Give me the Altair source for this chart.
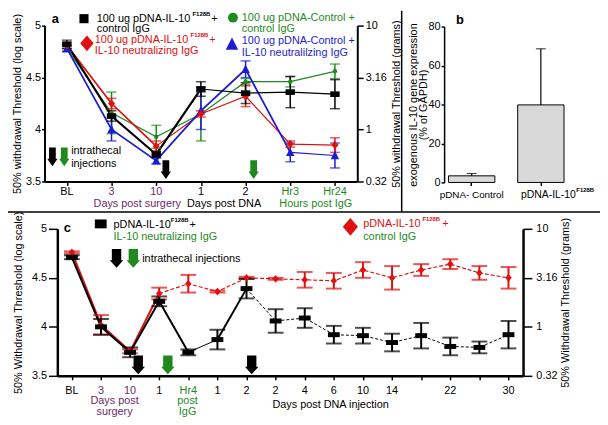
import altair as alt
import pandas as pd

W, H = 600, 417
OFF = 8  # page margin
FONT = "Liberation Sans"
PURPLE = "#6b2a6b"
GREEN = "#1e8a1e"
RED = "#e01010"
BLUE = "#1c1cd0"

# ---------------- Panel a data ----------------
a_labels = ["BL", "3", "10", "1", "2", "Hr3", "Hr24"]
a_groups = ["base", "surgery", "surgery", "dna", "dna", "igg", "igg"]
a_black = [4.82, 4.13, 3.76, 4.39, 4.35, 4.36, 4.34]
a_black_err = [0.04, 0.05, 0.03, 0.07, 0.10, 0.15, 0.14]
a_red = [4.81, 4.25, 3.84, 4.15, 4.32, 3.86, 3.85]
a_red_err = [0.03, 0.05, 0.05, 0.03, 0.10, 0.03, 0.07]
a_green = [4.78, 4.16, 3.93, 4.15, 4.46, 4.46, 4.56]
a_green_err = [0.03, 0.20, 0.11, 0.26, 0.03, 0.05, 0.07]
a_blue = [4.78, 4.00, 3.70, 4.18, 4.58, 3.78, 3.75]
a_blue_err = [0.03, 0.11, 0.03, 0.18, 0.08, 0.09, 0.12]

# ---------------- Panel b data ----------------
b_groups = ["pDNA- Control", "pDNA-IL-10"]
b_values = [3.4, 39.8]
b_err = [1.2, 28.8]

# ---------------- Panel c data ----------------
c_labels = ["BL", "3", "10", "1", "Hr4", "1", "2", "2", "4", "6", "10", "14", "", "22", "", "30"]
c_groups = ["base", "surgery", "surgery", "dna", "igg", "dna", "dna", "dna", "dna",
            "dna", "dna", "dna", "dna", "dna", "dna", "dna"]
c_black = [4.71, 4.00, 3.74, 4.26, 3.74, 3.87, 4.39, 4.06, 4.09, 3.92, 3.91, 3.84, 3.91, 3.80, 3.79, 3.92]
c_black_err = [0.02, 0.08, 0.05, 0.05, 0.03, 0.10, 0.10, 0.12, 0.10, 0.09, 0.08, 0.09, 0.13, 0.09, 0.06, 0.14]
c_red = [4.76, 4.02, 3.75, 4.34, 4.44, 4.36, 4.50, 4.49, 4.48, 4.47, 4.58, 4.50, 4.58, 4.64, 4.55, 4.50]
c_red_err = [0.01, 0.10, 0.02, 0.06, 0.09, 0.01, 0.01, 0.01, 0.08, 0.08, 0.08, 0.12, 0.06, 0.05, 0.07, 0.11]

GROUP_DOMAIN = ["base", "surgery", "dna", "igg"]
GROUP_RANGE = ["black", PURPLE, "black", GREEN]

# ---------------- scales (explicit pixel ranges) ----------------
AX = alt.Scale(domain=[-0.5, 6.5], range=[37, 354], nice=False, zero=False)
AY = alt.Scale(domain=[3.5, 5], range=[173, 15], nice=False, zero=False)
BX = alt.Scale(domain=b_groups, range=[442, 568], paddingInner=0.33, paddingOuter=0.064)
BY = alt.Scale(domain=[0, 80], range=[174, 16], nice=False, zero=True)
CX = alt.Scale(domain=[-0.5, 15.5], range=[50, 522], nice=False, zero=False)
CY = alt.Scale(domain=[3.5, 5], range=[370, 221], nice=False, zero=False)

DUMMY = pd.DataFrame({"d": [0]})
RIGHT_LABELS = "datum.value == 5 ? '10' : datum.value == 4.5 ? '3.16' : datum.value == 4 ? '1' : '0.32'"


def sdf(vals, errs):
    return pd.DataFrame({
        "i": list(range(len(vals))),
        "v": vals,
        "lo": [v - e for v, e in zip(vals, errs)],
        "hi": [v + e for v, e in zip(vals, errs)],
    })


def ax(**kw):
    base = dict(grid=False, domainColor="black", tickColor="black", labelColor="black",
                titleColor="black", labelFont=FONT, titleFont=FONT, labelFontSize=11,
                titleFontSize=11, titleFontWeight="normal", domainWidth=2, tickWidth=1.5,
                tickSize=3, labelPadding=1)
    base.update(kw)
    return alt.Axis(**base)


def seg_line(df, lo, hi, xs, ys, color, width, dash=None):
    sub = df[(df["i"] >= lo) & (df["i"] <= hi)]
    kw = dict(color=color, strokeWidth=width)
    if dash is not None:
        kw["strokeDash"] = dash
    return alt.Chart(sub).mark_line(**kw).encode(
        x=alt.X("i:Q", scale=xs, axis=None),
        y=alt.Y("v:Q", scale=ys, axis=None),
    )


def errbars(df, xs, ys, color, width, cap):
    rule = alt.Chart(df).mark_rule(color=color, strokeWidth=width).encode(
        x=alt.X("i:Q", scale=xs, axis=None),
        y=alt.Y("lo:Q", scale=ys, axis=None),
        y2="hi:Q",
    )
    lo = alt.Chart(df).mark_tick(orient="horizontal", color=color, size=cap, thickness=width).encode(
        x=alt.X("i:Q", scale=xs, axis=None),
        y=alt.Y("lo:Q", scale=ys, axis=None),
    )
    hi = alt.Chart(df).mark_tick(orient="horizontal", color=color, size=cap, thickness=width).encode(
        x=alt.X("i:Q", scale=xs, axis=None),
        y=alt.Y("hi:Q", scale=ys, axis=None),
    )
    return [rule, lo, hi]


def pts(df, xs, ys, color, shape, size):
    return alt.Chart(df).mark_point(shape=shape, filled=True, color=color, size=size, opacity=1).encode(
        x=alt.X("i:Q", scale=xs, axis=None),
        y=alt.Y("v:Q", scale=ys, axis=None),
    )


def txt(s, x, y, color="black", size=11, weight="normal", align="left"):
    kw = dict(text=s, color=color, fontSize=size, fontWeight=weight, align=align,
              baseline="middle", font=FONT)
    return alt.Chart(DUMMY).mark_text(**kw).encode(x=alt.value(x - OFF), y=alt.value(y - OFF))


def sym(x, y, shape, color, size):
    return alt.Chart(DUMMY).mark_point(shape=shape, filled=True, color=color, size=size, opacity=1).encode(
        x=alt.value(x - OFF), y=alt.value(y - OFF))


def arrow_shape(head, shaft):
    return f"M{-shaft},-1H{shaft}V0.2H{head}L0,1L{-head},0.2H{-shaft}Z"


ARROW_A = arrow_shape(0.55, 0.36)
ARROW_C = arrow_shape(0.72, 0.5)
RECT_A = "M-1,-0.6H1V0.6H-1Z"
RECT_C = "M-1,-0.42H1V0.42H-1Z"
RECT_LEG = "M-1,-0.75H1V0.75H-1Z"
DIAMOND = "M0,-1L0.85,0L0,1L-0.85,0Z"
TRI = "M0,-1L0.9,0.8L-0.9,0.8Z"

layers = []

# ---------------- Panel a ----------------
dA_black = sdf(a_black, a_black_err)
dA_red = sdf(a_red, a_red_err)
dA_green = sdf(a_green, a_green_err)
dA_blue = sdf(a_blue, a_blue_err)

a_ticks = pd.DataFrame({"v": [3.5, 4.0, 4.5, 5.0], "i": [0, 1, 2, 3]})
layers.append(alt.Chart(a_ticks).mark_point(opacity=0).encode(
    x=alt.X("i:Q", scale=AX, axis=ax(orient="bottom", offset=173 - H, values=list(range(7)),
                                      labels=False, title=None, tickSize=4)),
    y=alt.Y("v:Q", scale=AY, axis=ax(orient="left", offset=-37, values=[3.5, 4, 4.5, 5],
                                      labelExpr="'' + datum.value", titleAngle=270,
                                      titleBaseline="bottom",
                                      title="50% withdrawal Threshold (log scale)", titlePadding=3)),
))
layers.append(alt.Chart(a_ticks).mark_point(opacity=0).encode(
    y=alt.Y("v:Q", scale=AY, axis=ax(orient="right", offset=354 - W, values=[3.5, 4, 4.5, 5],
                                      labelExpr=RIGHT_LABELS, titleAngle=270, titleBaseline="top",
                                      tickSize=6, labelPadding=2,
                                      title="50% withdrawal Threshold (grams)", titlePadding=4)),
))

layers += [
    seg_line(dA_green, 0, 6, AX, AY, GREEN, 1.2),
    seg_line(dA_red, 0, 2, AX, AY, RED, 1.8),
    seg_line(dA_red, 2, 6, AX, AY, RED, 1.2),
    seg_line(dA_blue, 0, 5, AX, AY, BLUE, 1.8),
    seg_line(dA_blue, 5, 6, AX, AY, BLUE, 1.2),
    seg_line(dA_black, 0, 3, AX, AY, "black", 2.2),
    seg_line(dA_black, 3, 6, AX, AY, "black", 1.2),
]
layers += errbars(dA_green, AX, AY, GREEN, 1.5, 10)
layers += errbars(dA_blue, AX, AY, BLUE, 1.5, 10)
layers += errbars(dA_red, AX, AY, RED, 1.5, 10)
layers += errbars(dA_black, AX, AY, "black", 1.5, 10)
layers += [
    pts(dA_green, AX, AY, GREEN, "circle", 20),
    pts(dA_blue, AX, AY, BLUE, TRI, 90),
    pts(dA_red, AX, AY, RED, DIAMOND, 70),
    pts(dA_black, AX, AY, "black", RECT_A, 90),
]

a_lab_df = pd.DataFrame({"i": list(range(7)), "lab": a_labels, "grp": a_groups})
layers.append(alt.Chart(a_lab_df).mark_text(font=FONT, fontSize=11, baseline="middle").encode(
    x=alt.X("i:Q", scale=AX, axis=None), y=alt.value(192 - OFF), text="lab:N",
    color=alt.Color("grp:N", scale=alt.Scale(domain=GROUP_DOMAIN, range=GROUP_RANGE), legend=None)))

layers += [
    txt("a", 56, 16, size=13, weight="bold", align="center"),
    sym(85, 16, "square", "black", 85),
    txt("100 ug pDNA-IL-10", 98, 16),
    txt("F128B", 195, 11, size=6, weight="bold"),
    txt("+", 214, 16),
    txt("control IgG", 98, 27),
    sym(88, 41, DIAMOND, RED, 256),
    txt("100 ug pDNA-IL-10", 96, 38, RED),
    txt("F128B", 193, 33, RED, size=6, weight="bold"),
    txt("+", 212, 38, RED),
    txt("IL-10 neutralizing IgG", 96, 49, RED),
    sym(236, 15, "circle", GREEN, 100),
    txt("100 ug pDNA-Control +", 245, 15, GREEN),
    txt("control IgG", 245, 27, GREEN),
    sym(235, 42, TRI, BLUE, 196),
    txt("100 ug pDNA-Control +", 245, 39, BLUE),
    txt("IL-10 neutralilzing IgG", 245, 51, BLUE),
    sym(53, 156, ARROW_A, "black", 361),
    sym(65, 156, ARROW_A, GREEN, 361),
    txt("intrathecal", 72, 150),
    txt("injections", 72, 163),
    sym(168, 169, ARROW_A, "black", 361),
    sym(257, 169, ARROW_A, GREEN, 361),
    txt("Days post surgery", 139, 204, PURPLE, align="center"),
    txt("Days post DNA", 227, 204, "black", align="center"),
    txt("Hours post IgG", 320, 204, GREEN, align="center"),
]

# ---------------- Panel b ----------------
dB = pd.DataFrame({"g": b_groups, "v": b_values,
                   "hi": [v + e for v, e in zip(b_values, b_err)]})
layers.append(alt.Chart(dB).mark_bar(fill="#d9d9d9", stroke="black", strokeWidth=1).encode(
    x=alt.X("g:N", scale=BX, sort=b_groups,
            axis=ax(orient="bottom", offset=174 - H, labels=False, domain=False, title=None, tickSize=3)),
    y=alt.Y("v:Q", scale=BY,
            axis=ax(orient="left", offset=-442, values=[0, 20, 40, 60, 80],
                    titleAngle=270, titleBaseline="bottom", titleLineHeight=10,
                    title=["exogenous IL-10 gene expression", "(% of GAPDH)"], titlePadding=0,
                    domainWidth=1.5)),
))
layers.append(alt.Chart(dB).mark_rule(color="black", strokeWidth=1.2).encode(
    x=alt.X("g:N", scale=BX, sort=b_groups, axis=None),
    y=alt.Y("v:Q", scale=BY, axis=None), y2="hi:Q"))
layers.append(alt.Chart(dB).mark_tick(orient="horizontal", color="black", size=10, thickness=1.2).encode(
    x=alt.X("g:N", scale=BX, sort=b_groups, axis=None),
    y=alt.Y("hi:Q", scale=BY, axis=None)))
layers += [
    txt("b", 466, 17, size=13, weight="bold", align="center"),
    txt("pDNA- Control", 478, 195, size=10, align="center"),
    txt("pDNA-IL-10", 528, 195, size=10.5),
    txt("F128B", 584, 190, size=6, weight="bold"),
]

# ---------------- separators ----------------
layers.append(alt.Chart(DUMMY).mark_rule(color="black", strokeWidth=1.5).encode(
    x=alt.value(407 - OFF), y=alt.value(0), y2=alt.value(212 - OFF)))
layers.append(alt.Chart(DUMMY).mark_rule(color="black", strokeWidth=1.5).encode(
    x=alt.value(0), x2=alt.value(W), y=alt.value(212 - OFF)))

# ---------------- Panel c ----------------
dC_black = sdf(c_black, c_black_err)
dC_red = sdf(c_red, c_red_err)
c_ticks = pd.DataFrame({"v": [3.5, 4.0, 4.5, 5.0], "i": [0, 1, 2, 3]})
layers.append(alt.Chart(c_ticks).mark_point(opacity=0).encode(
    x=alt.X("i:Q", scale=CX, axis=ax(orient="bottom", offset=370 - H, values=list(range(16)),
                                      labels=False, title=None, tickSize=4, domainWidth=2.5)),
    y=alt.Y("v:Q", scale=CY, axis=ax(orient="left", offset=-50, values=[3.5, 4, 4.5, 5],
                                      labelExpr="'' + datum.value", domainWidth=2.5,
                                      tickSize=9, labelPadding=2,
                                      titleAngle=270, titleBaseline="bottom",
                                      title="50% Withdrawal Threshold (log scale)", titlePadding=8)),
))
layers.append(alt.Chart(c_ticks).mark_point(opacity=0).encode(
    y=alt.Y("v:Q", scale=CY, axis=ax(orient="right", offset=522 - W, values=[3.5, 4, 4.5, 5],
                                      labelExpr=RIGHT_LABELS, domainWidth=2.5,
                                      tickSize=9, labelPadding=4,
                                      titleAngle=270, titleBaseline="top",
                                      title="50% Withdrawal Threshold (grams)", titlePadding=3)),
))

layers += [
    seg_line(dC_red, 0, 3, CX, CY, RED, 2),
    seg_line(dC_red, 3, 15, CX, CY, RED, 1.2, [4, 2]),
    seg_line(dC_black, 0, 4, CX, CY, "black", 2),
    seg_line(dC_black, 4, 5, CX, CY, "black", 1),
    seg_line(dC_black, 5, 6, CX, CY, "black", 2),
    seg_line(dC_black, 6, 15, CX, CY, "black", 1, [3, 2]),
]
layers += errbars(dC_red, CX, CY, RED, 2, 16)
layers += errbars(dC_black, CX, CY, "black", 2, 16)
layers += [
    pts(dC_red, CX, CY, RED, DIAMOND, 60),
    pts(dC_black, CX, CY, "black", RECT_C, 144),
]

c_lab_df = pd.DataFrame({"i": list(range(16)), "lab": c_labels, "grp": c_groups})
layers.append(alt.Chart(c_lab_df).mark_text(font=FONT, fontSize=11, baseline="middle").encode(
    x=alt.X("i:Q", scale=CX, axis=None), y=alt.value(393 - OFF), text="lab:N",
    color=alt.Color("grp:N", scale=alt.Scale(domain=GROUP_DOMAIN, range=GROUP_RANGE), legend=None)))

layers += [
    txt("c", 68, 228, size=13, weight="bold", align="center"),
    sym(102, 224, RECT_LEG, "black", 144),
    txt("pDNA-IL-10", 115, 225),
    txt("F128B", 173, 220, size=6, weight="bold"),
    txt("+", 192, 225),
    txt("IL-10 neutralizing IgG", 115, 237, GREEN),
    sym(355, 227, DIAMOND, RED, 324),
    txt("pDNA-IL-10", 368, 224, RED),
    txt("F128B", 428, 219, RED, size=6, weight="bold"),
    txt("+", 448, 224, RED),
    txt("control IgG", 368, 237, GREEN),
    sym(118, 259, ARROW_C, "black", 361),
    sym(135, 259, ARROW_C, GREEN, 361),
    txt("intrathecal injections", 144, 260),
    sym(140, 367, ARROW_C, "black", 361),
    sym(170, 367, ARROW_C, GREEN, 361),
    sym(255, 367, ARROW_C, "black", 361),
    txt("Days post", 116, 404, PURPLE, align="center"),
    txt("surgery", 116, 415, PURPLE, align="center"),
    txt("post", 190, 404, GREEN, align="center"),
    txt("IgG", 190, 415, GREEN, align="center"),
    txt("Days post DNA injection", 335, 408, "black", align="center"),
]

chart = alt.layer(*layers).resolve_scale(
    x="independent", y="independent", color="independent"
).properties(
    width=W, height=H, autosize=alt.AutoSizeParams(type="none"), padding=0
).configure_view(stroke=None)

chart.save("out.html", embed_options={"renderer": "svg", "actions": False})
